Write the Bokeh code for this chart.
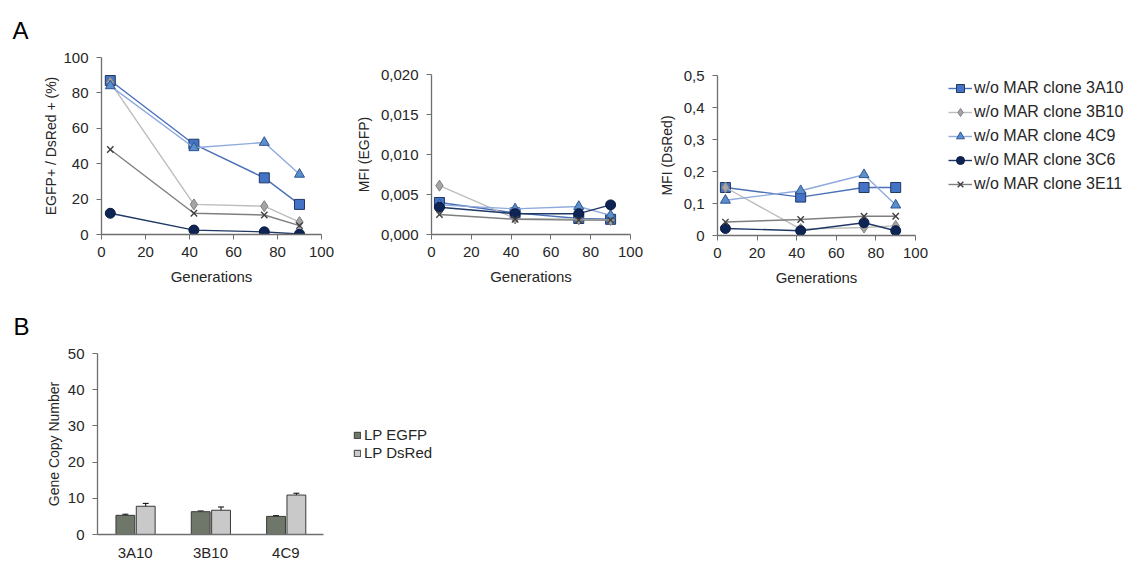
from bokeh.plotting import figure
from bokeh.layouts import row, column
from bokeh.models import (Range1d, FixedTicker, Legend, LegendItem, Whisker,
                          ColumnDataSource, CustomJSTickFormatter, TeeHead)
from bokeh.transform import dodge
from bokeh.embed import file_html
from bokeh.resources import INLINE

# ---------------- data ----------------
generations = [4, 42, 74, 90]
clone_names = ["w/o MAR clone 3A10", "w/o MAR clone 3B10", "w/o MAR clone 4C9",
               "w/o MAR clone 3C6", "w/o MAR clone 3E11"]

pct_3A10 = [87, 51, 32, 17]
pct_3B10 = [86, 17, 16, 7]
pct_4C9 = [84, 49, 52, 34]
pct_3C6 = [12, 2.5, 1.5, 0.3]
pct_3E11 = [48, 12, 11, 5]

egfp_3A10 = [0.0040, 0.0027, 0.0020, 0.0019]
egfp_3B10 = [0.0061, 0.0020, 0.0019, 0.0018]
egfp_4C9 = [0.0037, 0.0032, 0.0035, 0.0024]
egfp_3C6 = [0.0034, 0.0026, 0.0026, 0.0037]
egfp_3E11 = [0.0025, 0.0019, 0.0018, 0.0018]

dsred_3A10 = [0.15, 0.12, 0.15, 0.15]
dsred_3B10 = [0.15, 0.02, 0.025, 0.03]
dsred_4C9 = [0.11, 0.14, 0.19, 0.095]
dsred_3C6 = [0.022, 0.015, 0.04, 0.015]
dsred_3E11 = [0.042, 0.05, 0.06, 0.06]

bar_clones = ["3A10", "3B10", "4C9"]
lp_egfp = [5.3, 6.3, 5.0]
lp_egfp_err = [0.3, 0.2, 0.2]
lp_dsred = [7.8, 6.7, 10.9]
lp_dsred_err = [0.8, 0.9, 0.5]
bar_series = ["LP EGFP", "LP DsRed"]

# ---------------- styles ----------------
FONT = "Liberation Sans"
TXT = "#262626"
AX = "#6f6f6f"
EGFP_FILL = "#6F776A"
DSRED_FILL = "#C9C9C9"
BAR_LINE = "#3A3A3A"
styles = [
    dict(marker="square", size=10, fill="#4472C4", outline="#1F3864", line="#4A70B8"),
    dict(marker="diamond", size=11, fill="#A5A5A5", outline="#7F7F7F", line="#BDBDBD"),
    dict(marker="triangle", size=10, fill="#5B8FC9", outline="#2F5597", line="#8FAADC"),
    dict(marker="circle", size=10, fill="#0E2454", outline="#0A1A40", line="#1F3864"),
    dict(marker="x", size=9, fill="#404040", outline="#404040", line="#7F7F7F"),
]


def style_axes(p, xlabel, ylabel, ylabel_standoff=6):
    p.outline_line_color = None
    p.xgrid.visible = False
    p.ygrid.visible = False
    for ax in p.axis:
        ax.axis_line_color = AX
        ax.axis_line_width = 1.3
        ax.major_tick_line_color = AX
        ax.major_tick_in = 0
        ax.major_tick_out = 5
        ax.minor_tick_line_color = None
        ax.major_label_text_font = FONT
        ax.major_label_text_color = TXT
        ax.axis_label_text_font = FONT
        ax.axis_label_text_font_style = "normal"
        ax.axis_label_text_color = TXT
    p.xaxis.major_label_text_font_size = "15px"
    p.yaxis.major_label_text_font_size = "15px"
    p.xaxis.axis_label_text_font_size = "15px"
    p.yaxis.axis_label_text_font_size = "14px"
    p.xaxis.axis_label = xlabel
    p.yaxis.axis_label = ylabel
    p.xaxis.major_label_standoff = 7
    p.yaxis.major_label_standoff = 8
    p.xaxis.axis_label_standoff = 8
    p.yaxis.axis_label_standoff = ylabel_standoff


def panel_title(p, text, offset):
    p.title.text = text
    p.title.text_font = FONT
    p.title.text_font_size = "24px"
    p.title.text_font_style = "normal"
    p.title.text_color = "#000000"
    p.title.align = "left"
    p.title.offset = offset
    p.title.standoff = 27


def style_legend(leg, size):
    leg.label_text_font = FONT
    leg.label_text_font_size = size
    leg.label_text_color = TXT
    leg.padding = 0
    leg.margin = 0
    leg.border_line_color = None
    leg.background_fill_alpha = 0


def blank_fig(width, height):
    # legend-only canvas: data drawn outside the visible ranges, only the legend shows
    p = figure(width=width, height=height, x_range=Range1d(-1000, -999), y_range=Range1d(-1000, -999),
               output_backend="svg", toolbar_location=None, x_axis_type=None, y_axis_type=None,
               min_border_left=0, min_border_right=0, min_border_top=0, min_border_bottom=0)
    p.outline_line_color = None
    p.xgrid.visible = False
    p.ygrid.visible = False
    return p


def draw_series(p, series):
    rends = []
    for vals, st in zip(series, styles):
        src = ColumnDataSource(dict(g=generations, v=vals))
        l = p.line("g", "v", source=src, line_color=st["line"], line_width=1.4)
        if st["marker"] == "x":
            m = p.scatter("g", "v", source=src, marker="x", size=st["size"],
                          line_color=st["outline"], line_width=1.4)
        else:
            m = p.scatter("g", "v", source=src, marker=st["marker"], size=st["size"],
                          fill_color=st["fill"], line_color=st["outline"], line_width=1)
        rends.append((l, m))
    return rends


def line_panel(width, height, lb, rb, tb, bb, ymax, ystep, series, ylabel, fmt_code, lstand=6):
    p = figure(width=width, height=height, x_range=Range1d(0, 100), y_range=Range1d(0, ymax),
               output_backend="svg", toolbar_location=None,
               min_border_left=lb, min_border_right=rb, min_border_top=tb, min_border_bottom=bb)
    style_axes(p, "Generations", ylabel, lstand)
    p.xaxis.ticker = FixedTicker(ticks=[0, 20, 40, 60, 80, 100])
    p.yaxis.ticker = FixedTicker(ticks=[round(i * ystep, 6) for i in range(int(round(ymax / ystep)) + 1)])
    if fmt_code:
        p.yaxis.formatter = CustomJSTickFormatter(code=fmt_code)
    draw_series(p, series)
    return p


pct_series = [pct_3A10, pct_3B10, pct_4C9, pct_3C6, pct_3E11]
egfp_series = [egfp_3A10, egfp_3B10, egfp_4C9, egfp_3C6, egfp_3E11]
dsred_series = [dsred_3A10, dsred_3B10, dsred_4C9, dsred_3C6, dsred_3E11]

f1 = line_panel(340, 290, 101, 19, 57, 56, 100, 20, pct_series, "EGFP+ / DsRed + (%)", None, 1)
panel_title(f1, "A", -89)
f2 = line_panel(310, 290, 91, 20, 74, 56, 0.02, 0.005, egfp_series, "MFI (EGFP)",
                "return tick.toFixed(3).replace('.', ',');")
f3 = line_panel(285, 290, 67, 20, 75, 55, 0.5, 0.1, dsred_series, "MFI (DsRed)",
                "return tick == 0 ? '0' : tick.toFixed(1).replace('.', ',');")

# legend canvas for panel A
lf = blank_fig(190, 290)
lr = draw_series(lf, dsred_series)
leg = Legend(items=[LegendItem(label=n, renderers=[l, m]) for n, (l, m) in zip(clone_names, lr)],
             location=(13, 96), orientation="vertical")
style_legend(leg, "16px")
leg.glyph_width = 24
leg.glyph_height = 20
leg.label_height = 20
leg.label_standoff = 2
leg.spacing = 4
lf.add_layout(leg)

# ---------------- panel B ----------------
fB = figure(width=330, height=273, x_range=bar_clones, y_range=Range1d(0, 50),
            output_backend="svg", toolbar_location=None,
            min_border_left=97, min_border_right=7, min_border_top=63, min_border_bottom=27)
style_axes(fB, "", "Gene Copy Number", 3)
panel_title(fB, "B", -84)
fB.xaxis.axis_label = None
fB.xaxis.major_tick_out = 0
fB.xaxis.major_label_standoff = 9
fB.yaxis.ticker = FixedTicker(ticks=[0, 10, 20, 30, 40, 50])
fB.x_range.range_padding = 0

bsrc = ColumnDataSource(dict(
    cat=bar_clones, egfp=lp_egfp, dsred=lp_dsred,
    e_up=[v + e for v, e in zip(lp_egfp, lp_egfp_err)],
    e_lo=[v - e for v, e in zip(lp_egfp, lp_egfp_err)],
    d_up=[v + e for v, e in zip(lp_dsred, lp_dsred_err)],
    d_lo=[v - e for v, e in zip(lp_dsred, lp_dsred_err)],
))
fB.vbar(x=dodge("cat", -0.13, range=fB.x_range), top="egfp", width=0.25, source=bsrc,
        fill_color=EGFP_FILL, line_color=BAR_LINE, line_width=1)
fB.vbar(x=dodge("cat", 0.14, range=fB.x_range), top="dsred", width=0.25, source=bsrc,
        fill_color=DSRED_FILL, line_color=BAR_LINE, line_width=1)
for off, up, lo in [(-0.13, "e_up", "e_lo"), (0.14, "d_up", "d_lo")]:
    w = Whisker(base=dodge("cat", off, range=fB.x_range), upper=up, lower=lo, source=bsrc,
                line_color="#000000", line_width=1,
                upper_head=TeeHead(size=6, line_color="#000000", line_width=1),
                lower_head=TeeHead(size=6, line_color="#000000", line_width=1))
    fB.add_layout(w)

# legend canvas for panel B
lB = blank_fig(240, 273)
lsrc = ColumnDataSource(dict(cat=[0, 1, 2], egfp=lp_egfp, dsred=lp_dsred))
lb1 = lB.vbar(x="cat", top="egfp", width=0.25, source=lsrc,
              fill_color=EGFP_FILL, line_color=BAR_LINE, line_width=1)
lb2 = lB.vbar(x="cat", top="dsred", width=0.25, source=lsrc,
              fill_color=DSRED_FILL, line_color=BAR_LINE, line_width=1)
legB = Legend(items=[LegendItem(label=bar_series[0], renderers=[lb1]),
                     LegendItem(label=bar_series[1], renderers=[lb2])],
              location=(23, 102), orientation="vertical")
style_legend(legB, "15px")
legB.glyph_width = 8
legB.glyph_height = 8
legB.label_height = 16
legB.label_standoff = 3
legB.spacing = 1
lB.add_layout(legB)

layout = column(row(column(f1), column(f2), column(f3), column(lf)),
                row(column(fB), column(lB)))
open("out.html", "w").write(file_html(layout, INLINE))
